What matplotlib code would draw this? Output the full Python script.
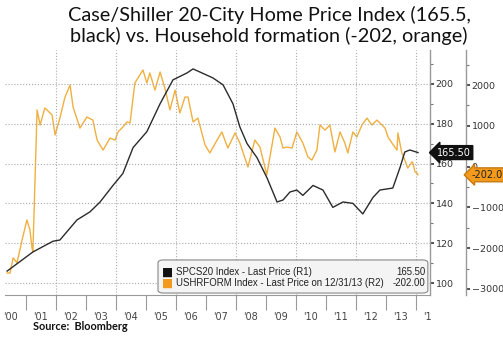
import matplotlib.pyplot as plt
from matplotlib.patches import FancyBboxPatch
from matplotlib.ticker import FixedLocator, NullFormatter

# Case/Shiller 20-city index (R1)
hp_t = [2000.37, 2001.23, 2001.9, 2002.13, 2002.7, 2003.13, 2003.47, 2003.9,
        2004.23, 2004.57, 2005.03, 2005.47, 2005.9, 2006.37, 2006.57, 2007.23,
        2007.57, 2007.9, 2008.13, 2008.37, 2008.7, 2009.03, 2009.37, 2009.57,
        2009.8, 2010.03, 2010.23, 2010.57, 2010.9, 2011.23, 2011.57, 2011.9,
        2012.23, 2012.57, 2012.8, 2013.23, 2013.47, 2013.63, 2013.8, 2014.07]
hp_v = [106, 115.6, 121, 121.6, 131.7, 135.7, 140.7, 149,
        155, 168, 176, 190, 202, 205.5, 207.5, 203,
        199.5, 190, 178.4, 170, 163, 153, 140.7, 141.7,
        145.7, 146.7, 144, 149, 146.7, 138, 140.7, 140,
        134.7, 143, 146.7, 147.7, 158, 165.8, 166.8, 165.5]

# household formation (R2)
hh_t = [2000.37, 2000.47, 2000.57, 2000.7, 2000.87, 2001.03, 2001.13, 2001.2,
        2001.23, 2001.37, 2001.47, 2001.63, 2001.87, 2001.97, 2002.13, 2002.3,
        2002.47, 2002.57, 2002.8, 2003.03, 2003.23, 2003.37, 2003.57, 2003.8,
        2003.97, 2004.07, 2004.23, 2004.37, 2004.47, 2004.63, 2004.9, 2005.03,
        2005.13, 2005.3, 2005.47, 2005.63, 2005.8, 2005.97, 2006.13, 2006.3,
        2006.4, 2006.57, 2006.73, 2006.97, 2007.13, 2007.37, 2007.53, 2007.73,
        2007.97, 2008.13, 2008.4, 2008.63, 2008.8, 2009.03, 2009.3, 2009.47,
        2009.57, 2009.7, 2009.87, 2010.03, 2010.23, 2010.4, 2010.53, 2010.7,
        2010.8, 2010.97, 2011.13, 2011.3, 2011.47, 2011.63, 2011.73, 2011.9,
        2012.03, 2012.2, 2012.37, 2012.53, 2012.7, 2012.8, 2012.97, 2013.07,
        2013.2, 2013.37, 2013.4, 2013.53, 2013.63, 2013.73, 2013.87, 2013.9,
        2013.97, 2014.03, 2014.07]
hh_v = [-2610, -2610, -2240, -2360, -1800, -1310, -1550, -1995,
        -2090, 1390, 1020, 1440, 1265, 775, 1190, 1705,
        2000, 1460, 945, 1215, 1140, 650, 405, 700,
        650, 850, 970, 1095, 1070, 2050, 2370, 2050,
        2295, 1875, 2320, 1925, 1390, 1875, 1315, 1705,
        1705, 1095, 1190, 530, 335, 650, 850, 455,
        825, 580, -10, 650, 480, -205, 945, 725,
        455, 480, 455, 850, 580, 235, 160, 405,
        1020, 895, 1020, 360, 850, 580, 335, 850,
        725, 1020, 1190, 1020, 1140, 1070, 945, 725,
        580, 405, 825, 335, 160, -35, 115, 90,
        -130, -155, -202]

hp_last = 165.50
hh_last = -202.00

years = list(range(2001, 2015))
year_label_pos = [y - 0.5 for y in range(2001, 2015)] + [2014.4]
year_labels = ["'00", "'01", "'02", "'03", "'04", "'05", "'06", "'07",
               "'08", "'09", "'10", "'11", "'12", "'13", "'1"]

fig = plt.figure(figsize=(5.03, 3.38), dpi=100)
ax = fig.add_axes([5 / 503, 43 / 338, 425 / 503, 245 / 338])
ax2 = ax.twinx()

ax.plot(hp_t, hp_v, color='#2b2b2b', lw=1.0, zorder=3)
ax2.plot(hh_t, hh_v, color='#f0b040', lw=1.0, zorder=2)
ax.set_zorder(ax2.get_zorder() + 1)
ax.patch.set_visible(False)

ax.set_xlim(2000.3, 2014.47)
ax.set_ylim(94, 217)
ax2.set_ylim(-3150, 2860)

# first scale on the right edge, second scale pushed outward
ax.yaxis.tick_right()
ax.set_yticks([100, 120, 140, 160, 180, 200])
ax.yaxis.set_minor_locator(FixedLocator([110, 130, 150, 170, 190, 210]))
ax2.set_yticks([-3000, -2000, -1000, 0, 1000, 2000])
ax2.yaxis.set_minor_locator(FixedLocator([-2500, -1500, -500, 500, 1500, 2500]))
ax2.spines['right'].set_position(('outward', 26))

for a in (ax, ax2):
    for s in ('top', 'left', 'bottom'):
        a.spines[s].set_visible(False)
    a.spines['right'].set_color('#999999')
    a.spines['right'].set_linewidth(1.0)
    a.tick_params(axis='y', which='major', direction='out', length=3, width=1.2,
                  color='#333333', labelsize=6.8, labelcolor='#333333', pad=1)
    a.tick_params(axis='y', which='minor', direction='out', length=2.5, width=0.8,
                  color='#777777')
ax.spines['bottom'].set_visible(True)
ax.spines['bottom'].set_color('#999999')

# year separators with labels between them
ax.set_xticks(years)
ax.xaxis.set_major_formatter(NullFormatter())
ax.xaxis.set_minor_locator(FixedLocator(year_label_pos))
ax.set_xticklabels(year_labels, minor=True)
ax.tick_params(axis='x', which='major', length=11, width=0.8, color='#999999')
ax.tick_params(axis='x', which='minor', length=0, labelsize=7,
               labelcolor='#444444', pad=12)

ax.grid(True, axis='y', which='major', ls=':', color='#aaaaaa', lw=0.8)
for x in range(2002, 2015, 2):
    ax.axvline(x, ls=':', color='#aaaaaa', lw=0.8, zorder=0)

# last value tags on both scales
ax.annotate(f'{hp_last:.2f}', xy=(1.0, hp_last), xycoords=('axes fraction', 'data'),
            xytext=(5, 0), textcoords='offset points', ha='left', va='center',
            fontsize=7, color='white', annotation_clip=False,
            bbox=dict(boxstyle='larrow,pad=0.2', fc='#111111', ec='#111111'))
ax2.annotate(f'{hh_last:.1f}', xy=(1.0, hh_last), xycoords=('axes fraction', 'data'),
             xytext=(30, 0), textcoords='offset points', ha='left', va='center',
             fontsize=7, color='#222222', annotation_clip=False,
             bbox=dict(boxstyle='larrow,pad=0.2', fc='#f39a1c', ec='#c77a10'))

# legend box
box = FancyBboxPatch((0.36, 0.008), 0.635, 0.135, transform=ax.transAxes,
                     boxstyle='round,pad=0,rounding_size=0.012',
                     fc='#f4f4f4', ec='#888888', lw=0.8, zorder=5)
ax.add_patch(box)
rows = [('#111111', 'SPCS20 Index - Last Price (R1)', f'{hp_last:.2f}', 0.092),
        ('#f39a1c', 'USHRFORM Index - Last Price on 12/31/13 (R2)', f'{hh_last:.2f}', 0.047)]
for col, name, val, y in rows:
    ax.text(0.37, y, '\u25a0', color=col, fontsize=8.5, transform=ax.transAxes,
            va='center', ha='left', zorder=6)
    ax.text(0.403, y, name, color='#222222', fontsize=6.9, family='Liberation Sans',
            transform=ax.transAxes, va='center', ha='left', zorder=6)
    ax.text(0.99, y, val, color='#222222', fontsize=6.9, family='Liberation Sans',
            transform=ax.transAxes, va='center', ha='right', zorder=6)

fig.text(0.535, 0.982, 'Case/Shiller 20-City Home Price Index (165.5,\n'
         'black) vs. Household formation (-202, orange)',
         ha='center', va='top', fontsize=14.3, family='Lato', color='#111111',
         linespacing=1.2)
fig.text(0.066, 0.035, 'Source:  Bloomberg', ha='left', va='center',
         fontsize=7.8, fontweight='bold', family='Lato', color='#111111')

fig.savefig('out.png', dpi=100)
